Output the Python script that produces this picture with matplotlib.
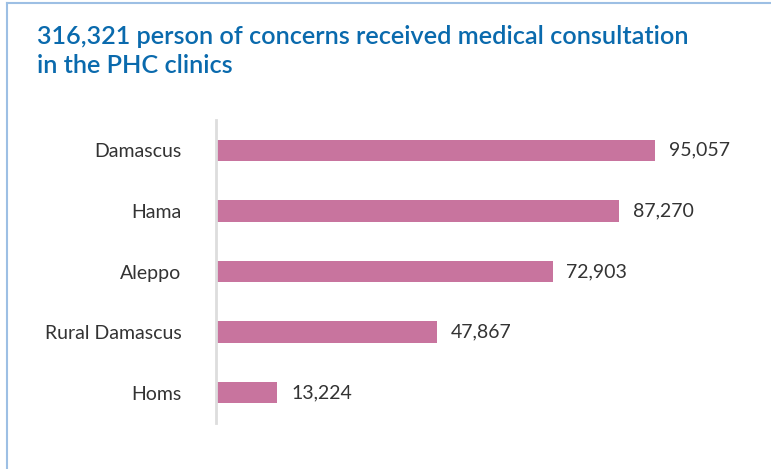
import matplotlib
matplotlib.use("Agg")
from matplotlib import pyplot as plt
from matplotlib.lines import Line2D

# data
regions = ["Damascus", "Hama", "Aleppo", "Rural Damascus", "Homs"]
consultations = [95057, 87270, 72903, 47867, 13224]
title = "316,321 person of concerns received medical consultation\nin the PHC clinics"

plt.rcParams['font.family'] = ['Lato', 'DejaVu Sans']

fig = plt.figure(figsize=(7.71, 4.69), dpi=100)
fig.patch.set_facecolor("white")

# panel border (left and top)
fig.add_artist(Line2D([0.0091, 0.0091], [0.0, 0.9936], transform=fig.transFigure,
                      color="#9dbfe4", lw=1.5))
fig.add_artist(Line2D([0.0091, 1.0], [0.9936, 0.9936], transform=fig.transFigure,
                      color="#9dbfe4", lw=1.5))

fig.text(0.048, 0.947, title, color="#0a6aad", fontsize=18.2, weight="semibold",
         va="top", ha="left", linespacing=1.32)

ax = fig.add_axes([0.2802, 0.0981, 0.6796, 0.646])
ypos = list(range(len(regions)))
ax.barh(ypos, consultations, height=0.35, color="#c8749e")
ax.set_ylim(len(regions) - 0.5, -0.5)
ax.set_xlim(0, 113500)
ax.set_yticks(ypos)
ax.set_yticklabels(regions, fontsize=14, color="#333333")
ax.tick_params(axis="y", length=0, pad=25)
ax.set_xticks([])
for s in ["top", "right", "bottom"]:
    ax.spines[s].set_visible(False)
ax.spines["left"].set_color("#dddddd")
ax.spines["left"].set_linewidth(2)

for y, v in zip(ypos, consultations):
    ax.annotate(f"{v:,}", (v, y), xytext=(10, 0), textcoords="offset points",
                va="center", ha="left", fontsize=14, color="#333333")

plt.savefig("out.png", dpi=100)
